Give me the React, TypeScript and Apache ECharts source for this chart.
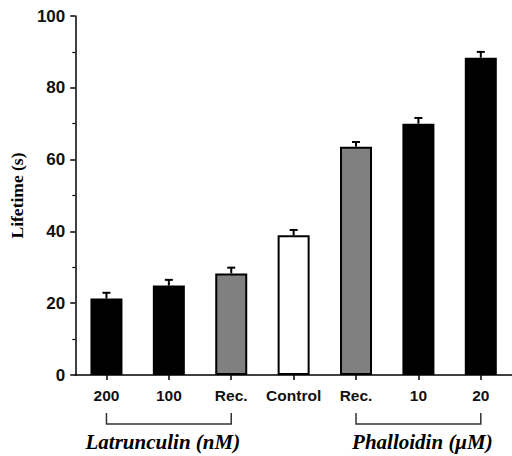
import React, { useEffect, useRef } from "react";
import * as echarts from "echarts";

const categories = ["200", "100", "Rec.", "Control", "Rec.", "10", "20"];
const values = [21.3, 24.9, 28.3, 38.9, 63.6, 70.0, 88.4];
const errors = [1.6, 1.6, 1.6, 1.5, 1.3, 1.6, 1.6];
const barColors = ["#000000", "#000000", "#808080", "#ffffff", "#808080", "#000000", "#000000"];
const yTicks = [0, 20, 40, 60, 80, 100];
const groupLabels = ["Latrunculin (nM)", "Phalloidin (\u03bcM)"];
const groupRanges = [[0, 2], [4, 6]];

export default function App() {
  const ref = useRef<HTMLDivElement>(null);
  useEffect(() => {
    if (!ref.current) return;
    const chart = echarts.init(ref.current, null, { renderer: "svg" });
    const option: any = {
      animation: false,
      backgroundColor: "#ffffff",
      grid: { left: 71, right: -7, top: 16, bottom: 81, containLabel: false },
      xAxis: {
        type: "category",
        data: categories,
        axisLine: { show: true, lineStyle: { color: "#000", width: 1.5 } },
        axisTick: { show: true, alignWithLabel: true, length: 5, lineStyle: { color: "#000", width: 1.5 } },
        axisLabel: {
          interval: 0,
          color: "#111",
          fontFamily: "Liberation Sans, Arial, sans-serif",
          fontWeight: "bold",
          fontSize: 15.5,
          margin: 12,
        },
      },
      yAxis: {
        type: "value",
        min: 0,
        max: 100,
        interval: 20,
        name: "Lifetime (s)",
        nameLocation: "middle",
        nameGap: 48,
        nameRotate: 90,
        nameTextStyle: {
          color: "#000",
          fontFamily: "Liberation Serif, Times New Roman, serif",
          fontWeight: "bold",
          fontSize: 17.5,
        },
        axisLine: { show: true, lineStyle: { color: "#000", width: 1.5 } },
        axisTick: { show: true, length: 5, lineStyle: { color: "#000", width: 1.5 } },
        minorTick: { show: true, splitNumber: 2, length: 3, lineStyle: { color: "#000", width: 1.2 } },
        splitLine: { show: false },
        axisLabel: {
          color: "#111",
          fontFamily: "Liberation Sans, Arial, sans-serif",
          fontWeight: "bold",
          fontSize: 17,
          margin: 10,
          formatter: (v: number) => (yTicks.indexOf(v) >= 0 ? String(v) : ""),
        },
      },
      series: [
        {
          type: "bar",
          barWidth: 32,
          data: values.map((v, i) => ({
            value: v,
            itemStyle: { color: barColors[i], borderColor: "#000", borderWidth: 2 },
          })),
          z: 2,
        },
        {
          type: "custom",
          z: 1,
          data: values.map((v, i) => [i, v, errors[i]]),
          renderItem: (params: any, api: any) => {
            const x = api.value(0);
            const v = api.value(1);
            const e = api.value(2);
            const base = api.coord([x, v]);
            const top = api.coord([x, v + e]);
            return {
              type: "group",
              children: [
                {
                  type: "line",
                  shape: { x1: base[0], y1: base[1], x2: top[0], y2: top[1] },
                  style: { stroke: "#000", lineWidth: 2 },
                },
                {
                  type: "line",
                  shape: { x1: top[0] - 4, y1: top[1], x2: top[0] + 4, y2: top[1] },
                  style: { stroke: "#000", lineWidth: 2 },
                },
              ],
            };
          },
        },
      ],
    };
    chart.setOption(option);

    const graphics: any[] = [];
    const lineY1 = 413;
    const lineY2 = 424;
    groupRanges.forEach((r, gi) => {
      const xa = chart.convertToPixel({ xAxisIndex: 0 }, r[0]) as number;
      const xb = chart.convertToPixel({ xAxisIndex: 0 }, r[1]) as number;
      graphics.push({
        type: "polyline",
        shape: { points: [[xa, lineY1], [xa, lineY2], [xb, lineY2], [xb, lineY1]] },
        style: { stroke: "#333", lineWidth: 1.5, fill: "none" },
      });
      graphics.push({
        type: "text",
        x: (xa + xb) / 2 + (gi === 0 ? -6 : 4),
        y: 442,
        style: {
          text: groupLabels[gi],
          fill: "#000",
          font: "italic bold 21px 'Liberation Serif', 'Times New Roman', serif",
          align: "center",
          verticalAlign: "middle",
        },
      });
    });
    chart.setOption({ graphic: graphics });

    return () => chart.dispose();
  }, []);
  return (
    <div
      ref={ref}
      style={{ position: "absolute", left: 0, top: 0, width: 512, height: 456 }}
    />
  );
}
